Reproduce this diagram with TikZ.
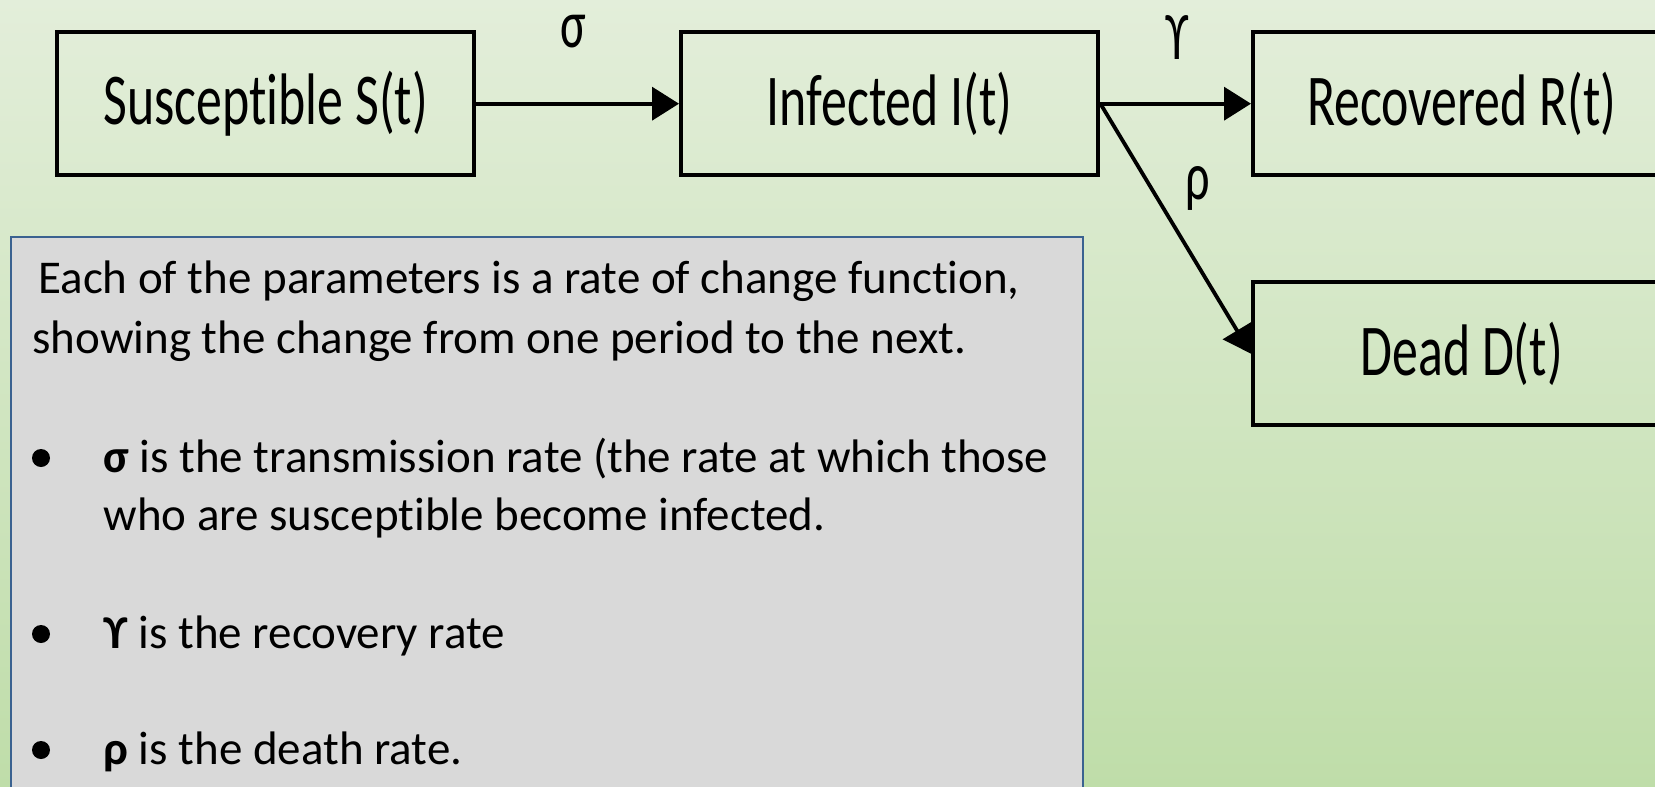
\documentclass[tikz,border=0pt]{standalone}
\usepackage{fontspec}
\setmainfont[Ligatures=NoCommon]{Carlito}
\newfontfamily\boxfont[FakeStretch=0.71,Ligatures=NoCommon]{Carlito}
\newfontfamily\dejavu{DejaVu Sans}
\usetikzlibrary{arrows.meta}
% Greek upsilon with hook, with a fallback when the font in force lacks it
\newcommand\upshook{\iffontchar\font"03D2 \char"03D2\else{\dejavu\char"03D2}\fi}
\definecolor{bgtop}{HTML}{E3EEDA}
\definecolor{bgbot}{HTML}{BFDDA9}
\definecolor{notefill}{HTML}{D9D9D9}
\definecolor{noteline}{HTML}{3A6290}
\tikzset{
  statebox/.style={draw=black, line width=2.2pt, minimum width=208.5pt,
    minimum height=71.5pt, inner sep=0pt, anchor=north west,
    font=\boxfont\fontsize{36.5}{40}\selectfont},
  rate/.style={font=\boxfont\fontsize{34}{38}\selectfont, inner sep=0pt},
  flow/.style={line width=1.9pt, -{Triangle[length=13.5pt,width=16.5pt]}},
  notetext/.style={anchor=base west, inner sep=0pt,
    font=\fontsize{23.5}{27}\selectfont},
  bulletdot/.style={fill=black}
}
\begin{document}
\begin{tikzpicture}[x=0.5pt,y=-0.5pt]
\clip (0,0) rectangle (1655,787);
% background gradient
\shade[top color=bgtop, bottom color=bgbot] (0,0) rectangle (1655,787);

% compartments
\node[statebox] (S) at (55,30)   {Susceptible S(t)};
\node[statebox] (I) at (679,30)  {Infected I(t)};
\node[statebox] (R) at (1251,30) {Recovered R(t)};
\node[statebox] (D) at (1251,280) {Dead D(t)};

% transitions
\draw[flow] (S.east) -- (I.west);
\draw[flow] (I.east) -- (R.west);
\draw[flow] (I.east) -- (D.west);

% rate labels
\node[rate] (sig) at (573,32)  {σ};
\node[rate] (gam) at (1177,38) {\upshook};
\node[rate] (rho) at (1198,188) {ρ};

% explanatory note
\draw[fill=notefill, draw=noteline, line width=1pt] (11,237) rectangle (1083,820);
\node[notetext] (l1) at (38,293) {Each of the parameters is a rate of change function,};
\node[notetext] (l2) at (32,353) {showing the change from one period to the next.};
\fill[bulletdot] (41,458) circle (4.5pt);
\node[notetext] (b1) at (103,472) {\textbf{σ} is the transmission rate (the rate at which those};
\node[notetext] (b1b) at (103,530) {who are susceptible become infected.};
\fill[bulletdot] (41,634) circle (4.5pt);
\node[notetext] (b2) at (103,648) {\textbf{\upshook} is the recovery rate};
\fill[bulletdot] (41,750) circle (4.5pt);
\node[notetext] (b3) at (103,764) {\textbf{ρ} is the death rate.};
\end{tikzpicture}
\end{document}
